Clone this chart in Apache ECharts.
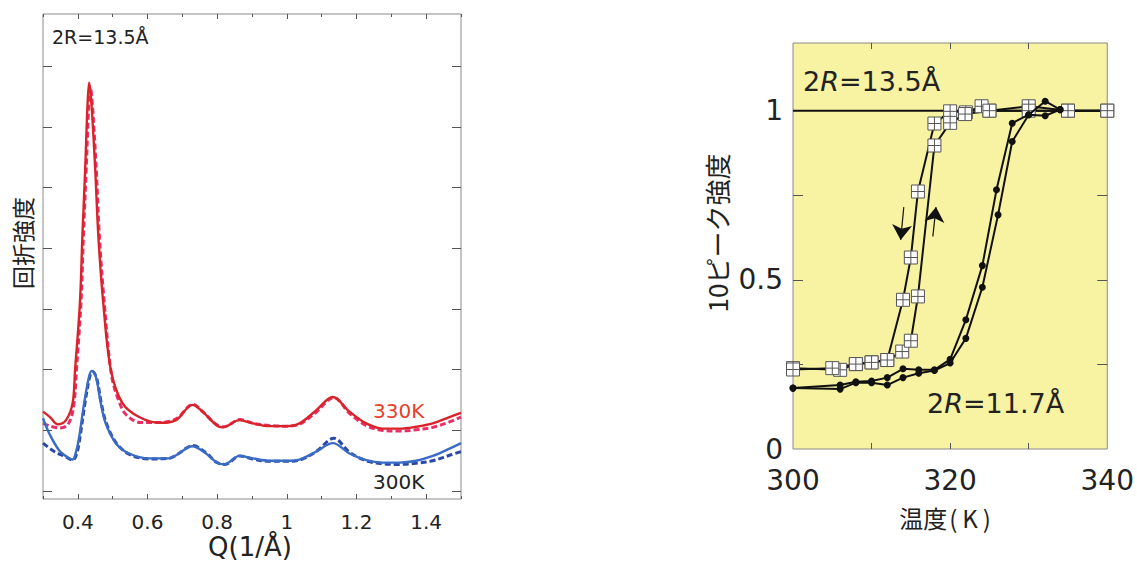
<!DOCTYPE html>
<html><head><meta charset="utf-8">
<script src="https://cdn.jsdelivr.net/npm/echarts@6/dist/echarts.min.js"></script>
<style>html,body{margin:0;padding:0;background:#fff}#c{width:1137px;height:562px}</style>
</head><body><div id="c"></div>
<script>
// ---------- Left panel: diffraction profiles (Q in 1/Å, intensity arb. units) ----------
const qLabelTicks = [0.4, 0.6, 0.8, 1.0, 1.2, 1.4];
const qMinorTicks = [0.3, 0.5, 0.7, 0.9, 1.1, 1.3, 1.5];
const intensityTicks = [0, 1, 2, 3, 4, 5, 6, 7];

const red330Solid = [[0.300,1.31],[0.320,1.22],[0.342,1.10],[0.366,1.17],[0.385,1.45],[0.392,1.99],[0.406,3.10],[0.413,4.19],[0.421,5.29],[0.428,6.39],[0.4325,6.73],[0.439,6.39],[0.450,5.29],[0.459,4.19],[0.473,3.10],[0.495,1.99],[0.528,1.45],[0.576,1.22],[0.634,1.125],[0.682,1.17],[0.729,1.42],[0.758,1.31],[0.797,1.09],[0.816,1.05],[0.864,1.17],[0.902,1.115],[0.950,1.07],[0.998,1.07],[1.036,1.115],[1.084,1.33],[1.132,1.55],[1.180,1.31],[1.228,1.115],[1.275,1.03],[1.323,1.03],[1.371,1.06],[1.419,1.115],[1.467,1.22],[1.500,1.29]];
const red330Dashed = [[0.300,1.12],[0.320,1.07],[0.349,1.04],[0.372,1.10],[0.388,1.40],[0.396,1.99],[0.409,3.10],[0.416,4.19],[0.424,5.29],[0.431,6.30],[0.436,6.66],[0.442,6.35],[0.453,5.29],[0.462,4.19],[0.476,3.10],[0.497,1.90],[0.520,1.45],[0.540,1.25],[0.580,1.13],[0.634,1.13],[0.682,1.19],[0.731,1.43],[0.760,1.30],[0.797,1.10],[0.818,1.06],[0.866,1.18],[0.902,1.12],[0.950,1.08],[0.998,1.07],[1.036,1.10],[1.084,1.30],[1.135,1.54],[1.180,1.28],[1.228,1.08],[1.275,1.00],[1.323,0.99],[1.371,1.01],[1.419,1.05],[1.467,1.14],[1.500,1.22]];
const blue300Solid = [[0.300,1.20],[0.318,0.95],[0.346,0.675],[0.375,0.54],[0.385,0.52],[0.395,0.65],[0.404,0.895],[0.418,1.445],[0.432,1.88],[0.440,1.98],[0.452,1.88],[0.466,1.445],[0.480,1.115],[0.509,0.79],[0.547,0.62],[0.605,0.54],[0.662,0.54],[0.682,0.59],[0.729,0.74],[0.768,0.62],[0.797,0.48],[0.820,0.44],[0.864,0.58],[0.902,0.54],[0.950,0.50],[0.998,0.50],[1.036,0.52],[1.084,0.65],[1.132,0.79],[1.180,0.62],[1.228,0.51],[1.275,0.47],[1.323,0.47],[1.371,0.50],[1.419,0.58],[1.467,0.70],[1.500,0.79]];
const blue300Dashed = [[0.300,0.79],[0.330,0.66],[0.365,0.565],[0.385,0.51],[0.397,0.62],[0.406,0.88],[0.420,1.43],[0.434,1.88],[0.442,1.97],[0.454,1.86],[0.468,1.43],[0.483,1.10],[0.512,0.78],[0.550,0.60],[0.605,0.53],[0.662,0.54],[0.684,0.60],[0.731,0.75],[0.770,0.62],[0.799,0.47],[0.822,0.44],[0.866,0.58],[0.902,0.53],[0.950,0.49],[0.998,0.49],[1.036,0.51],[1.084,0.65],[1.135,0.87],[1.180,0.64],[1.228,0.50],[1.275,0.45],[1.323,0.44],[1.371,0.46],[1.419,0.50],[1.467,0.59],[1.500,0.65]];

// ---------- Right panel: 10 peak intensity vs temperature ----------
const tempLabels = [300, 320, 340];
const tempTicks = [310, 320, 330];
const peakLabels = [0, 0.5, 1];
const peakTicks = [0.25, 0.5, 0.75];
const referenceLevel = [[300, 1], [340, 1]];

// 2R = 13.5 Å (open squares)
const sq135Cooling = [[340,1.0],[335,1.0],[330,1.013],[325,1.0],[324,1.013],[322,0.995],[320,0.998],[318,0.962],[315.9,0.761],[315,0.566],[314,0.441],[312,0.263],[310,0.256],[308,0.251],[306,0.234],[300,0.239]];
const sq135Heating = [[300,0.235],[305,0.239],[308,0.251],[310,0.256],[312,0.263],[313.9,0.288],[315,0.32],[315.9,0.451],[318,0.897],[320,0.964],[321.9,0.99],[325,1.0],[330,1.0],[335,1.0],[340,1.0]];
// 2R = 11.7 Å (filled circles)
const ci117Cooling = [[334,1.003],[332.1,1.028],[330,0.988],[327.9,0.963],[325.9,0.766],[324.1,0.542],[322,0.382],[320,0.265],[318,0.234],[316,0.234],[314,0.237],[312,0.211],[310,0.201],[308,0.199],[306,0.189],[300,0.18]];
const ci117Heating = [[300,0.18],[306,0.177],[308,0.196],[310,0.196],[312,0.189],[314,0.211],[316,0.224],[318,0.232],[320,0.254],[322,0.327],[324.1,0.478],[326.1,0.692],[327.9,0.909],[330,0.988],[332.1,0.985],[334,1.003]];
// direction arrows (data coords)
const arrowCooling = [[314.1, 0.715], [313.7, 0.618]];
const arrowHeating = [[317.8, 0.628], [318.2, 0.715]];

const DIGIT_FONT = '"DejaVu Sans", sans-serif';
const JP_FONT = '"Noto Sans CJK JP", sans-serif';

const chart = echarts.init(document.getElementById('c'), null, {renderer: 'svg'});

function fmtNum(v) { return String(+(+v).toFixed(2)); }

function makeAxis(grid, pos, min, max, ticks, len, labels, labelOpt) {
  return {
    type: 'value', gridIndex: grid, position: pos, min: min, max: max,
    axisLine: {show: false, onZero: false},
    splitLine: {show: false},
    axisTick: {show: true, inside: true, length: len, customValues: ticks, lineStyle: {color: '#555', width: 1}},
    axisLabel: labels ? Object.assign({show: true, customValues: labels, formatter: fmtNum, color: '#222', fontFamily: DIGIT_FONT}, labelOpt) : {show: false}
  };
}

const lineBase = {type: 'line', showSymbol: false, symbol: 'none', animation: false, silent: true, emphasis: {disabled: true}, z: 3};

function leftCurve(data, color, dashed, z) {
  return Object.assign({}, lineBase, {
    xAxisIndex: 0, yAxisIndex: 0, data: data, smooth: 0.35, z: z,
    lineStyle: {color: color, width: dashed ? 3 : 2.4, type: dashed ? [6, 3] : 'solid'}
  });
}

const squareSymbol = 'path://M0,0H12V12H0Z M6,0V12 M0,6H12';

function squareSeries(data, z) {
  return {
    type: 'line', xAxisIndex: 2, yAxisIndex: 2, data: data, animation: false, silent: true, z: z,
    emphasis: {disabled: true},
    symbol: squareSymbol, symbolSize: 13, showSymbol: true,
    itemStyle: {color: '#ffffff', borderColor: '#555', borderWidth: 1},
    lineStyle: {color: '#111', width: 2}
  };
}
function circleSeries(data, z) {
  return {
    type: 'line', xAxisIndex: 2, yAxisIndex: 2, data: data, animation: false, silent: true, z: z,
    emphasis: {disabled: true},
    symbol: 'circle', symbolSize: 7, showSymbol: true,
    itemStyle: {color: '#111'},
    lineStyle: {color: '#111', width: 2}
  };
}
function arrowSeries(coords) {
  return {
    type: 'lines', coordinateSystem: 'cartesian2d', xAxisIndex: 2, yAxisIndex: 2,
    animation: false, silent: true, z: 6,
    symbol: ['none', 'arrow'], symbolSize: 15,
    lineStyle: {color: '#111', width: 1.2, opacity: 1},
    data: [{coords: coords}]
  };
}

const option = {
  backgroundColor: '#ffffff',
  animation: false,
  grid: [
    {left: 43, top: 14, width: 418, height: 485, show: true, borderColor: '#8a8a8a', borderWidth: 1, backgroundColor: 'transparent'},
    {left: 793, top: 43, width: 323, height: 406, show: true, borderColor: '#8a8a8a', borderWidth: 1, backgroundColor: '#f8f2a3'}
  ],
  xAxis: [
    makeAxis(0, 'bottom', 0.3, 1.5, qLabelTicks, 5, qLabelTicks, {fontSize: 20, margin: 13}),
    makeAxis(0, 'top', 0.3, 1.5, qLabelTicks, 5, null),
    makeAxis(1, 'bottom', 300, 340, tempTicks, 6, tempLabels, {fontSize: 28, margin: 17}),
    makeAxis(1, 'top', 300, 340, tempTicks, 6, null),
    makeAxis(0, 'bottom', 0.3, 1.5, qMinorTicks, 3, null),
    makeAxis(0, 'top', 0.3, 1.5, qMinorTicks, 3, null)
  ],
  yAxis: [
    makeAxis(0, 'left', -0.13, 7.86, intensityTicks, 9, null),
    makeAxis(0, 'right', -0.13, 7.86, intensityTicks, 9, null),
    makeAxis(1, 'left', 0, 1.2, peakTicks, 10, peakLabels, {fontSize: 28, margin: 10}),
    makeAxis(1, 'right', 0, 1.2, peakTicks, 10, null)
  ],
  series: [
    leftCurve(red330Dashed, '#ea2f66', true, 3),
    leftCurve(red330Solid, '#d8232a', false, 4),
    leftCurve(blue300Dashed, '#2b48a6', true, 3),
    leftCurve(blue300Solid, '#3a6cc6', false, 4),
    Object.assign({}, lineBase, {xAxisIndex: 2, yAxisIndex: 2, data: referenceLevel, lineStyle: {color: '#111', width: 2}, z: 2}),
    squareSeries(sq135Cooling, 4),
    squareSeries(sq135Heating, 4),
    circleSeries(ci117Cooling, 5),
    circleSeries(ci117Heating, 5),
    arrowSeries(arrowCooling),
    arrowSeries(arrowHeating)
  ],
  graphic: [
    {type: 'text', left: 52, top: 27, style: {text: '2R=13.5Å', font: '19px ' + DIGIT_FONT, fill: '#222'}},
    {type: 'text', x: 373, y: 411, style: {text: '330K', font: '20px ' + DIGIT_FONT, fill: '#e8402c', verticalAlign: 'middle'}},
    {type: 'text', x: 373, y: 482, style: {text: '300K', font: '20px ' + DIGIT_FONT, fill: '#222', verticalAlign: 'middle'}},
    {type: 'text', x: 250, y: 547, style: {text: 'Q(1/Å)', font: '26px ' + DIGIT_FONT, fill: '#222', align: 'center', verticalAlign: 'middle'}},
    {type: 'text', x: 22, y: 243, rotation: Math.PI / 2, style: {text: '回折強度', font: '23px ' + JP_FONT, fill: '#222', align: 'center', verticalAlign: 'middle'}},
    {type: 'text', x: 803, y: 81, style: {
      text: '{n|2}{i|R}{n|=13.5Å}', verticalAlign: 'middle', fill: '#222',
      rich: {n: {font: '27px ' + DIGIT_FONT, fill: '#222'}, i: {font: 'italic 27px ' + DIGIT_FONT, fill: '#222'}}
    }},
    {type: 'text', x: 927, y: 403, style: {
      text: '{n|2}{i|R}{n|=11.7Å}', verticalAlign: 'middle', fill: '#222',
      rich: {n: {font: '27px ' + DIGIT_FONT, fill: '#222'}, i: {font: 'italic 27px ' + DIGIT_FONT, fill: '#222'}}
    }},
    {type: 'text', x: 946, y: 517, style: {
      text: '{a|温度}{p|(}{k|K}{p|)}', align: 'center', verticalAlign: 'middle', fill: '#222',
      rich: {
        a: {font: '24px ' + JP_FONT, fill: '#222'},
        p: {font: '24px ' + JP_FONT, fill: '#222', padding: [0, 2]},
        k: {font: '24px ' + JP_FONT, fill: '#222', padding: [0, 3]}
      }
    }},
    {type: 'text', x: 716, y: 233, rotation: Math.PI / 2, style: {text: '10ピーク強度', font: '26px ' + JP_FONT, fill: '#222', align: 'center', verticalAlign: 'middle'}}
  ]
};
chart.setOption(option);
</script></body></html>
